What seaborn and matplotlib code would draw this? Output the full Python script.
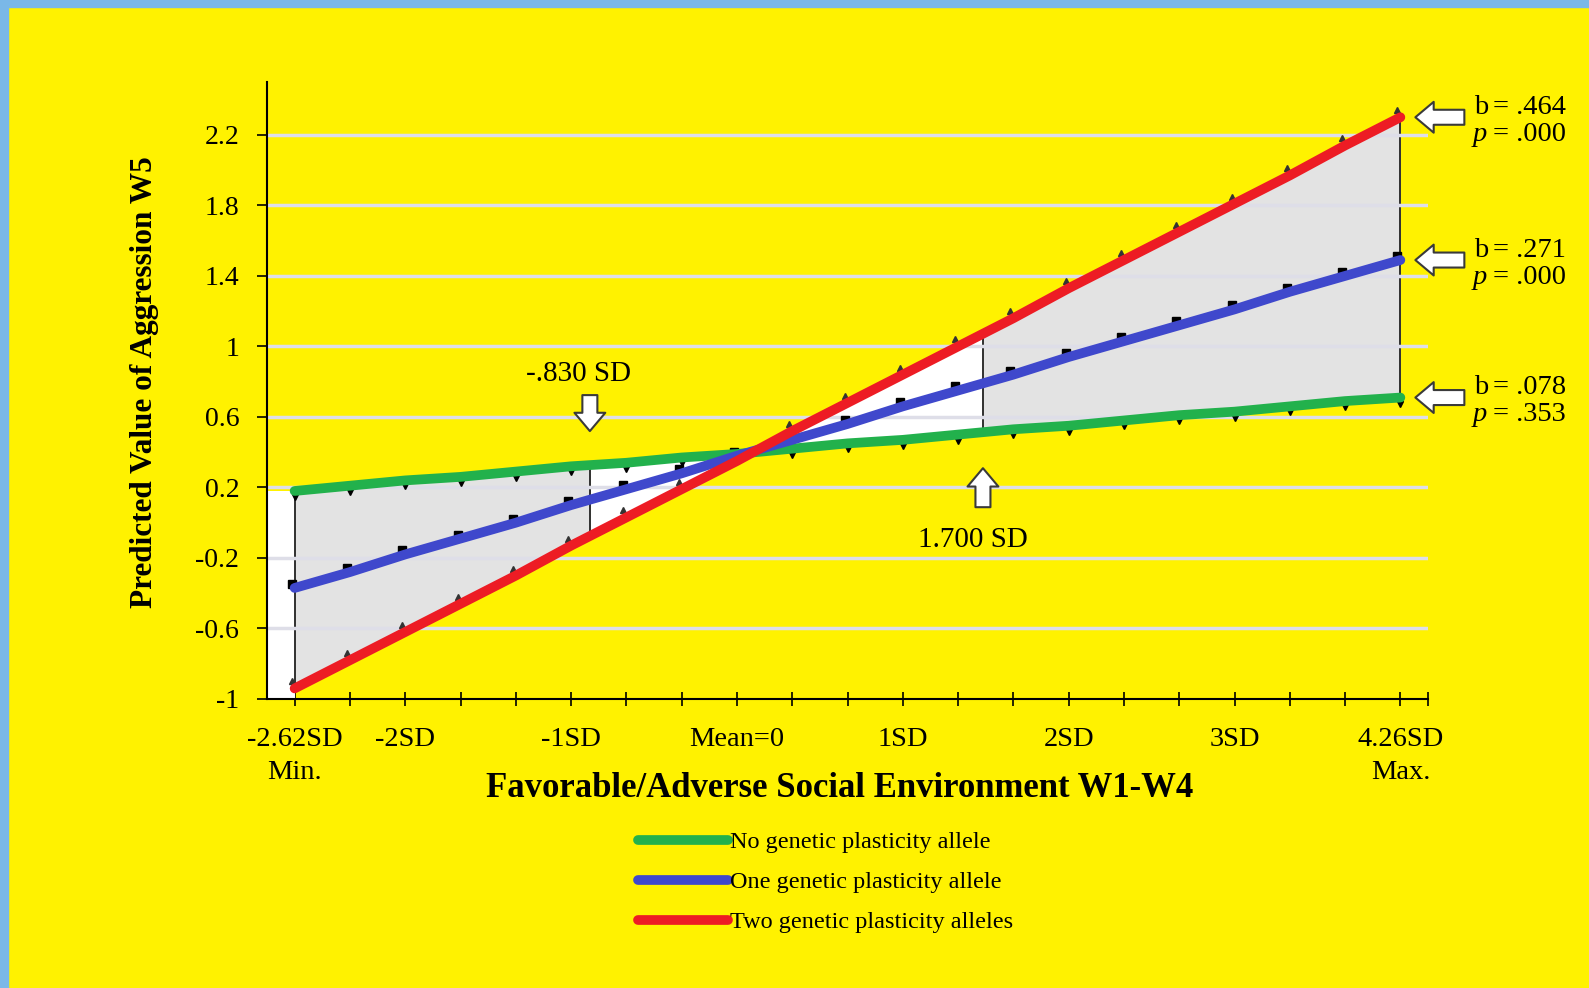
import numpy as np
import pandas as pd
import matplotlib
matplotlib.use("Agg")
import matplotlib.pyplot as plt
import matplotlib.transforms as mtransforms
from matplotlib.patches import Rectangle
from matplotlib.lines import Line2D
import seaborn as sns

# ---------------- data ----------------
positions = list(range(21))
tick_label_map = {0: "-2.62SD\nMin.", 2: "-2SD", 5: "-1SD", 8: "Mean=0",
                  11: "1SD", 14: "2SD", 17: "3SD", 20: "4.26SD\nMax."}
series_names = ["No genetic plasticity allele",
                "One genetic plasticity allele",
                "Two genetic plasticity alleles"]
no_allele = [0.18, 0.21, 0.24, 0.26, 0.29, 0.32, 0.34, 0.37, 0.39, 0.42, 0.45,
             0.47, 0.50, 0.53, 0.55, 0.58, 0.61, 0.63, 0.66, 0.69, 0.71]
one_allele = [-0.37, -0.28, -0.18, -0.09, 0.00, 0.10, 0.19, 0.28, 0.38, 0.47, 0.56,
              0.66, 0.75, 0.84, 0.94, 1.03, 1.12, 1.21, 1.31, 1.40, 1.49]
two_alleles = [-0.94, -0.78, -0.62, -0.46, -0.30, -0.13, 0.03, 0.19, 0.35, 0.52, 0.68,
               0.84, 1.00, 1.16, 1.33, 1.49, 1.65, 1.81, 1.97, 2.14, 2.30]
roi_positions = [5.34, 12.45]
roi_labels = ["-.830 SD", "1.700 SD"]
b_values = [".078", ".271", ".464"]
p_values = [".353", ".000", ".000"]
y_ticks = [-1, -0.6, -0.2, 0.2, 0.6, 1.0, 1.4, 1.8, 2.2]
y_tick_labels = ["-1", "-0.6", "-0.2", "0.2", "0.6", "1", "1.4", "1.8", "2.2"]
colors = ["#22B14C", "#3F48CC", "#ED1C24"]

# ---------------- style ----------------
sns.set_theme(style="white")
plt.rcParams['font.family'] = ['Liberation Serif', 'DejaVu Serif']

YELLOW = "#FFF200"
W, H = 1589, 988
fig = plt.figure(figsize=(W / 100, H / 100), dpi=100, facecolor=YELLOW)
ax = fig.add_axes([267 / W, 1 - 699 / H, (1428 - 267) / W, (699 - 82) / H])
ax.set_facecolor(YELLOW)

# blue frame strips (top and left)
fig.patches.append(Rectangle((0, 1 - 7 / H), 1, 7 / H, transform=fig.transFigure,
                             color="#7AB8E8", zorder=10))
fig.patches.append(Rectangle((0, 0), 8 / W, 1, transform=fig.transFigure,
                             color="#7AB8E8", zorder=10))

x = np.array(positions, float)
g = np.array(no_allele)
r = np.array(two_alleles)
lo, hi = roi_positions


def seg(a, b):
    xs = np.concatenate([[a], x[(x > a) & (x < b)], [b]])
    return xs, np.interp(xs, x, g), np.interp(xs, x, r)


ax.add_patch(Rectangle((-0.5, -1), 0.5, g[0] + 1, color="white", lw=0, zorder=1))
for a, b, c in [(x[0], lo, "#E3E3E3"), (lo, hi, "white"), (hi, x[-1], "#E3E3E3")]:
    xs, gs, rs = seg(a, b)
    ax.fill_between(xs, gs, rs, color=c, lw=0, zorder=1)

vx = np.array([x[0], lo, hi, x[-1]])
vg = np.interp(vx, x, g)
vr = np.interp(vx, x, r)
ax.vlines(vx, np.minimum(vg, vr), np.maximum(vg, vr), color="#303030", lw=1.4, zorder=2)

# gridlines
ax.hlines(y_ticks[1:], -0.5, 20.5, color="#DEDEE8", lw=2.5, zorder=2.2)

# lines
df = pd.DataFrame({
    "pos": positions * 3,
    "value": no_allele + one_allele + two_alleles,
    "group": [n for n in series_names for _ in positions],
})
sns.lineplot(data=df, x="pos", y="value", hue="group", hue_order=series_names,
             palette=colors, lw=7, solid_capstyle="round", ax=ax, zorder=4,
             legend=False)


def off(dx_px, dy_px):
    return ax.transData + mtransforms.ScaledTranslation(dx_px / 100, dy_px / 100,
                                                        fig.dpi_scale_trans)


ax.plot(x, g, ls="none", marker="v", ms=5, color="black", transform=off(0, -6), zorder=3.5)
ax.plot(x, one_allele, ls="none", marker="s", ms=6, color="black", transform=off(-3, 4), zorder=3.5)
ax.plot(x, r, ls="none", marker="^", ms=4.5, color="#333333", transform=off(-3, 7), zorder=3.5)

# axes
ax.set_xlim(-0.5, 20.5)
ax.set_ylim(-1, 2.5)
ax.set_xticks(positions + [20.5])
ax.set_xticklabels([tick_label_map.get(p, "") for p in positions] + [""])
for lab in ax.get_xticklabels():
    lab.set_linespacing(1.45)
ax.set_yticks(y_ticks)
ax.set_yticklabels(y_tick_labels)
ax.tick_params(axis="x", direction="inout", length=10, width=1.2, color="black",
               pad=15, labelsize=20.5, labelcolor="black", bottom=True)
ax.tick_params(axis="y", direction="out", length=7, width=1.2, color="black",
               pad=13, labelsize=20, labelcolor="black", left=True)
for s in ["top", "right"]:
    ax.spines[s].set_visible(False)
for s in ["left", "bottom"]:
    ax.spines[s].set_color("black")
    ax.spines[s].set_linewidth(1.5)
    ax.spines[s].set_zorder(5)

ax.set_xlabel("Favorable/Adverse Social Environment W1-W4", fontsize=25,
              fontweight="bold", color="black")
ax.xaxis.set_label_coords(0.4935, -0.145)
ax.xaxis.label.set_va("center")
ax.set_ylabel("Predicted Value of Aggression W5", fontsize=22.5, fontweight="bold",
              color="black")
ax.yaxis.set_label_coords(-0.1055, 0.513)
ax.yaxis.label.set_va("center")

# arrows & annotations
astyle = "simple,head_length=1.1,head_width=1.85,tail_width=0.9"
aprops = dict(arrowstyle=astyle, fc="white", ec="#3A3A3A", lw=1.5,
              shrinkA=0, shrinkB=0, mutation_scale=12)

series_all = [no_allele, one_allele, two_alleles]
for vals, bv, pv in zip(series_all, b_values, p_values):
    y_end = vals[-1]
    ax.annotate("", xy=(x[-1], y_end), xycoords=off(15, 0),
                xytext=(x[-1], y_end), textcoords=off(64, 0),
                arrowprops=aprops, annotation_clip=False, zorder=6)
    ax.annotate("b", xy=(x[-1], y_end), xytext=(74, 10), textcoords="offset pixels",
                fontsize=20.5, va="center", ha="left", color="black", annotation_clip=False)
    ax.annotate("= " + bv, xy=(x[-1], y_end), xytext=(93, 10), textcoords="offset pixels",
                fontsize=20.5, va="center", ha="left", color="black", annotation_clip=False)
    ax.annotate("p", xy=(x[-1], y_end), xytext=(72, -17), textcoords="offset pixels",
                fontsize=20.5, va="center", ha="left", style="italic", color="black",
                annotation_clip=False)
    ax.annotate("= " + pv, xy=(x[-1], y_end), xytext=(93, -17), textcoords="offset pixels",
                fontsize=20.5, va="center", ha="left", color="black", annotation_clip=False)

# region of significance markers
g_lo = np.interp(lo, x, g)
g_hi = np.interp(hi, x, g)
ax.annotate("", xy=(lo, g_lo), xycoords=off(0, 34), xytext=(lo, g_lo), textcoords=off(0, 70),
            arrowprops=aprops, annotation_clip=False, zorder=6)
ax.annotate(roi_labels[0], xy=(lo, g_lo), xytext=(-11, 91), textcoords="offset pixels",
            fontsize=21, ha="center", va="center", color="black")
ax.annotate("", xy=(hi, g_hi), xycoords=off(0, -36), xytext=(hi, g_hi), textcoords=off(0, -75),
            arrowprops=aprops, annotation_clip=False, zorder=6)
ax.annotate(roi_labels[1], xy=(hi, g_hi), xytext=(-10, -108), textcoords="offset pixels",
            fontsize=21, ha="center", va="center", color="black")

# legend
handles = [Line2D([], [], color=c, lw=7, solid_capstyle="round") for c in colors]
leg = fig.legend(handles, series_names, loc="upper left",
                 bbox_to_anchor=(638 / W, 1 - 831 / H), frameon=False, fontsize=17.5,
                 handlelength=3.7, handletextpad=0.08, labelspacing=0.74,
                 borderpad=0, borderaxespad=0)
for t in leg.get_texts():
    t.set_color("black")

fig.savefig("out.png", dpi=100, facecolor=YELLOW)
